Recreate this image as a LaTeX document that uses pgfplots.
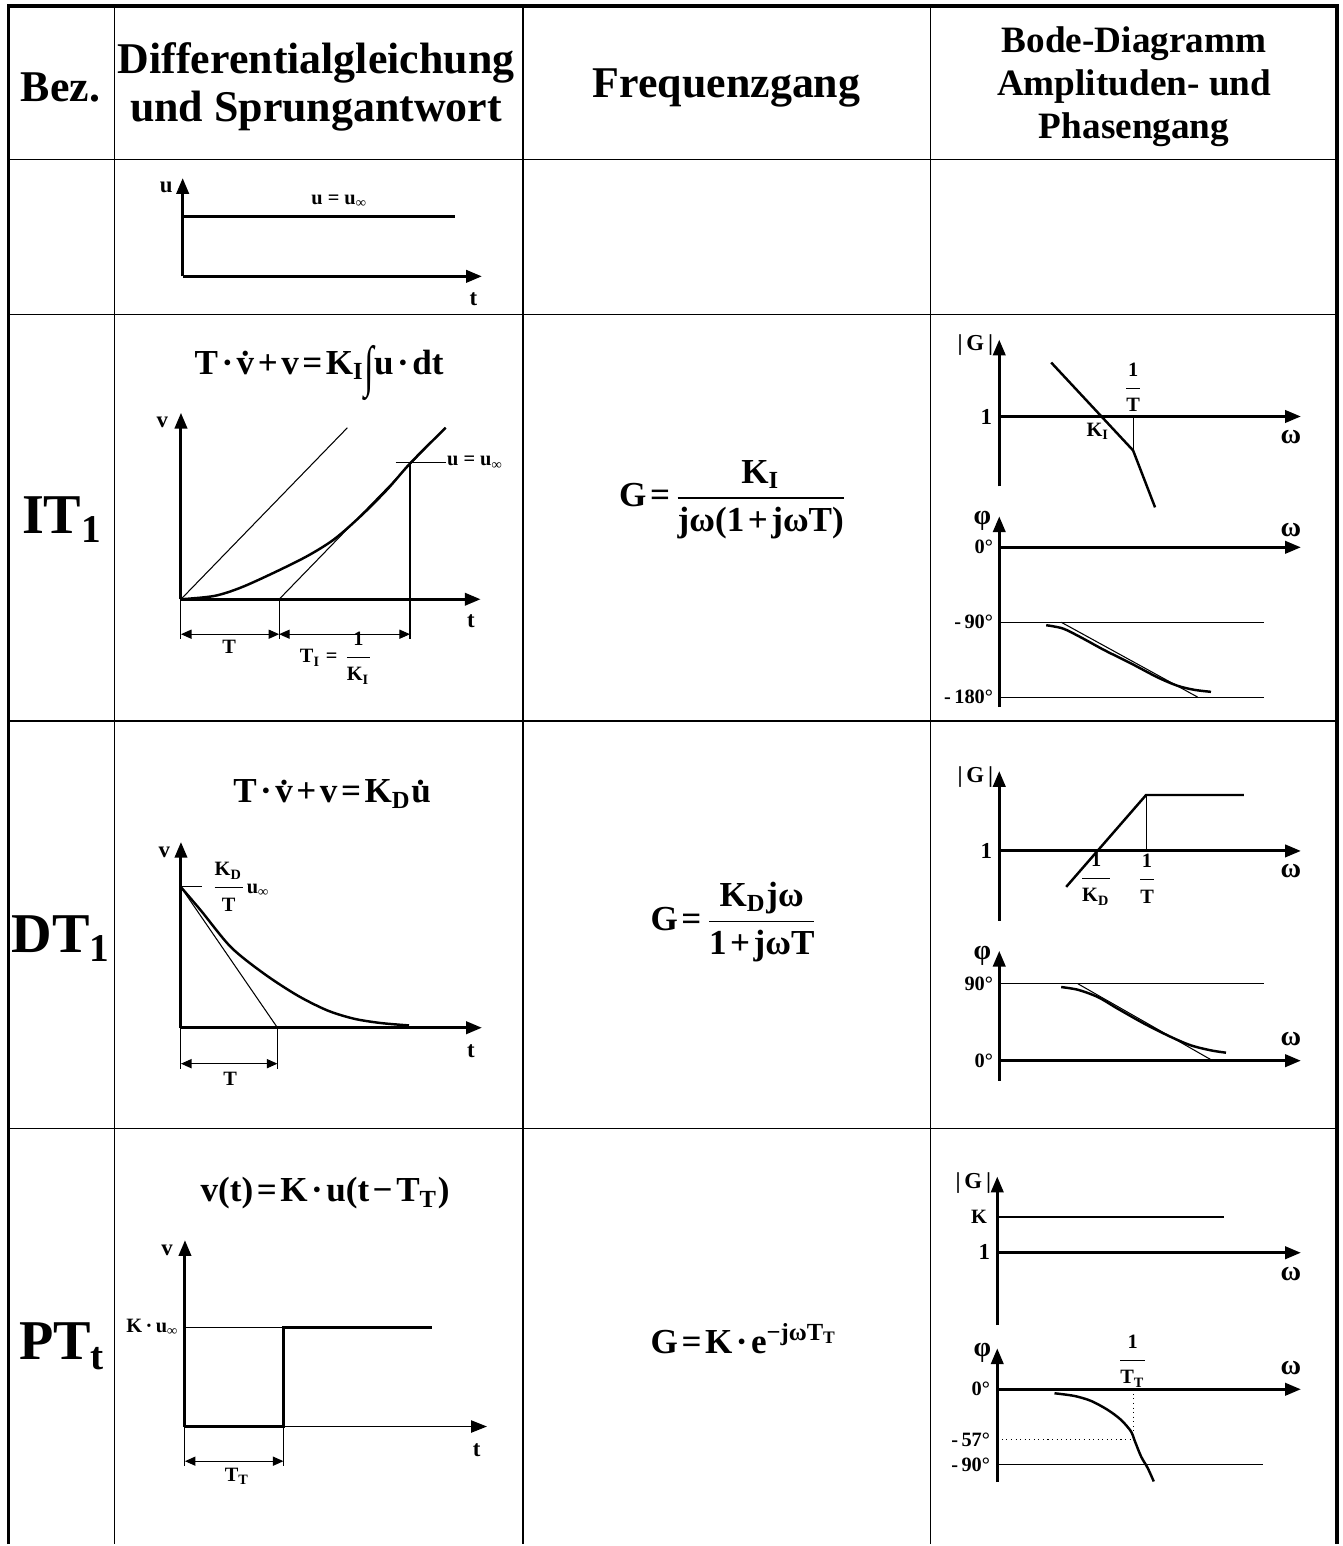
\documentclass[border=0pt]{standalone}
\usepackage{amsmath}
\usepackage{graphicx}
\usepackage{fontspec}
\setmainfont{Liberation Serif}
\usepackage{pgfplots}
\pgfplotsset{compat=1.18}
\usetikzlibrary{arrows.meta}

\newcommand{\sub}[1]{\textsubscript{#1}}
\newcommand{\bfr}[2]{$\dfrac{\text{#1}}{\text{#2}}$}
\newcommand{\op}[1]{\hspace{0.1em}#1\hspace{0.1em}}

\begin{document}
\begin{tikzpicture}
\begin{axis}[
  width=13.42cm, height=15.46cm, scale only axis,
  xmin=0, xmax=1342, ymin=0, ymax=1546, y dir=reverse,
  hide axis, clip=false,
]
\tikzset{
  grid/.style={line width=0.9pt},
  ax/.style={line width=0.85pt, -{Triangle[length=4.5pt,width=3.5pt]}},
  axthin/.style={line width=0.35pt, -{Triangle[length=4.5pt,width=3.5pt]}},
  curve/.style={line width=0.7pt},
  fine/.style={line width=0.3pt},
  dim/.style={line width=0.3pt, {Triangle[length=3pt,width=2.6pt]}-{Triangle[length=3pt,width=2.6pt]}},
  hdr/.style={font=\fontsize{12.5}{13.6}\selectfont\bfseries, align=center},
  hdrb/.style={font=\fontsize{10.6}{12.3}\selectfont\bfseries, align=center},
  row/.style={font=\fontsize{16}{18}\selectfont\bfseries},
  eq/.style={font=\fontsize{10}{12}\selectfont\bfseries, inner sep=0pt},
  lb/.style={font=\fontsize{6.5}{7.5}\selectfont\bfseries, inner sep=1pt},
  gr/.style={font=\fontsize{8}{9}\selectfont\bfseries, inner sep=1pt},
  lbs/.style={font=\fontsize{5.8}{7}\selectfont\bfseries, inner sep=1pt},
}
\path (0,0) rectangle (1342,1546);

% table
\addplot[line width=1.1pt] coordinates {(6,1546) (6,6) (1336,6) (1336,1546)};
\addplot[grid] coordinates {(112,6) (112,1546)};
\addplot[grid] coordinates {(521,6) (521,1546)};
\addplot[grid] coordinates {(929,6) (929,1546)};
\addplot[grid] coordinates {(6,160) (1336,160)};
\addplot[grid] coordinates {(6,315) (1336,315)};
\addplot[grid] coordinates {(6,722) (1336,722)};
\addplot[grid] coordinates {(6,1130) (1336,1130)};

% headers
\node[hdr] at (58,88) {Bez.};
\node[hdr] at (314,87) {Differentialgleichung\\und Sprungantwort};
\node[hdr] at (725,88) {Frequenzgang};
\node[hdrb] at (1133,87) {Bode-Diagramm\\Amplituden- und\\Phasengang};

% row labels
\node[row] at (60,520) {IT\sub{1}};
\node[row] at (59,940) {DT\sub{1}};
\node[row] at (60,1348) {PT\sub{t}};

% ---- row 1: step input
\addplot[ax] coordinates {(180.4,276.7) (480,276.7)};
\addplot[ax] coordinates {(180.4,276.7) (180.4,178.3)};
\addplot[curve] coordinates {(180.4,216.7) (452.9,216.7)};
\node[lb] at (164,188) {u};
\node[lb] at (471.4,300) {t};
\node[lbs] at (337.5,201.7) {u = u\sub{∞}};

% ---- IT1
\node[eq] at (317,373) {T\op{·}\.v\op{+}v\op{=}K\sub{I}\raisebox{-0.3em}{\scalebox{1}[1.6]{∫}}u\op{·}dt};
\addplot[ax] coordinates {(178.7,600) (478.7,600)};
\addplot[ax] coordinates {(178.7,600) (178.7,413.3)};
\addplot[fine] coordinates {(178.7,600) (345.3,428.3)};
\addplot[fine] coordinates {(277,600) (443.7,428.3)};
\addplot[curve, smooth] coordinates {(178.7,600) (212,596.7) (238.7,588.3) (272,573.3) (305.3,556.7) (332,540) (358.7,516.7) (385.3,490) (408.7,463.3) (443.7,428.3)};
\addplot[fine] coordinates {(408,463.3) (408,640)};
\addplot[fine] coordinates {(393.7,463.3) (443.7,463.3)};
\node[lbs, anchor=west] at (441,463.3) {u = u\sub{∞}};
\addplot[fine] coordinates {(178.7,600) (178.7,640)};
\addplot[fine] coordinates {(277,600) (277,640)};
\addplot[dim] coordinates {(178.7,635) (277,635)};
\addplot[dim] coordinates {(277,635) (408,635)};
\node[lbs] at (227,648) {T};
\node[lbs] at (335,659) {T\sub{I} = \bfr{1}{K\sub{I}}};
\node[lb] at (160,423) {v};
\node[lb] at (469,622) {t};

% IT1 Bode
\addplot[ax] coordinates {(998,487) (998,340)};
\addplot[ax] coordinates {(998,417) (1300,417)};
\addplot[curve] coordinates {(1050,363) (1132,451) (1154,508)};
\addplot[fine] coordinates {(1132,417) (1132,451)};
\node[lb, anchor=east] at (996,345) {|\,G\,|};
\node[lb, anchor=east] at (995,417) {1};
\node[gr] at (1290,438) {ω};
\node[lbs] at (1132,388) {\bfr{1}{T}};
\node[lbs] at (1097,432) {K\sub{I}};
\addplot[ax] coordinates {(998,708) (998,517)};
\addplot[ax] coordinates {(998,548) (1300,548)};
\addplot[fine] coordinates {(998,623) (1263,623)};
\addplot[fine] coordinates {(998,698) (1263,698)};
\addplot[fine] coordinates {(1060,623) (1196.7,698)};
\addplot[curve, smooth] coordinates {(1045,626) (1061.7,629.3) (1080,638.3) (1103.3,651) (1130,664.3) (1156.7,678.3) (1176.7,686.7) (1193.3,690.7) (1210,692.7)};
\node[gr] at (981,522) {φ};
\node[gr] at (1290,531) {ω};
\node[lbs, anchor=east] at (996,548) {0°};
\node[lbs, anchor=east] at (996,623) {-\,90°};
\node[lbs, anchor=east] at (996,698) {-\,180°};

% IT1 frequency response
\node[eq] at (732,500) {G\op{=}\bfr{K\sub{I}}{jω(1\op{+}jωT)}};

% ---- DT1
\node[eq] at (330,795) {T\op{·}\.v\op{+}v\op{=}K\sub{D}\.u};
\addplot[ax] coordinates {(178.7,1029) (480,1029)};
\addplot[ax] coordinates {(178.7,1029) (178.7,843)};
\addplot[curve, smooth] coordinates {(178.7,888.3) (198.7,911.7) (228.7,948.3) (262,975) (295.3,996.7) (325.3,1011.7) (352,1020) (378.7,1024.3) (407,1026.7)};
\addplot[fine] coordinates {(178.7,888.3) (275.3,1029)};
\addplot[fine] coordinates {(178.7,888) (200,888)};
\node[lbs, anchor=west] at (204,888) {\bfr{K\sub{D}}{T}u\sub{∞}};
\addplot[fine] coordinates {(178.7,1029) (178.7,1070)};
\addplot[fine] coordinates {(275.3,1029) (275.3,1070)};
\addplot[dim] coordinates {(178.7,1065) (275.3,1065)};
\node[lbs] at (228,1080) {T};
\node[lb] at (162,853) {v};
\node[lb] at (469,1052) {t};

% DT1 Bode
\addplot[ax] coordinates {(998,922) (998,772)};
\addplot[ax] coordinates {(998,852) (1300,852)};
\addplot[curve] coordinates {(1065,888) (1145,796) (1243,796)};
\addplot[fine] coordinates {(1145,796) (1145,852)};
\node[lb, anchor=east] at (996,778) {|\,G\,|};
\node[lb, anchor=east] at (995,852) {1};
\node[gr] at (1290,872) {ω};
\node[lbs] at (1095,880) {\bfr{1}{K\sub{D}}};
\node[lbs] at (1146,880) {\bfr{1}{T}};
\addplot[ax] coordinates {(998,1082) (998,952)};
\addplot[ax] coordinates {(998,1062) (1300,1062)};
\addplot[fine] coordinates {(998,985) (1263,985)};
\addplot[fine] coordinates {(1076.7,985) (1211.7,1062)};
\addplot[curve, smooth] coordinates {(1060,988.3) (1076.7,991) (1096.7,998.3) (1116.7,1010) (1143.3,1025) (1170,1038.3) (1190,1046.7) (1210,1051.7) (1225,1054)};
\node[gr] at (981,957) {φ};
\node[lbs, anchor=east] at (996,985) {90°};
\node[lbs, anchor=east] at (996,1062) {0°};
\node[gr] at (1290,1040) {ω};

% DT1 frequency response
\node[eq] at (733,923) {G\op{=}\bfr{K\sub{D}jω}{1\op{+}jωT}};

% ---- PTt
\node[eq] at (323,1195) {v(t)\op{=}K\op{·}u(t\op{−}T\sub{T})};
\addplot[ax] coordinates {(182.7,1428.3) (182.7,1241.7)};
\addplot[axthin] coordinates {(182.7,1428.3) (485,1428.3)};
\addplot[curve] coordinates {(182.7,1428.3) (281.3,1428.3) (281.3,1329.3) (430.3,1329.3)};
\addplot[fine] coordinates {(182.7,1329.3) (281.3,1329.3)};
\node[lbs, anchor=east] at (181,1329) {K\,·\,u\sub{∞}};
\addplot[fine] coordinates {(182.7,1428) (182.7,1468)};
\addplot[fine] coordinates {(281.3,1428) (281.3,1468)};
\addplot[dim] coordinates {(182.7,1463) (281.3,1463)};
\node[lbs] at (235,1478) {T\sub{T}};
\node[lb] at (164.7,1252) {v};
\node[lb] at (474.7,1452) {t};

% PTt Bode
\addplot[ax] coordinates {(996,1326.7) (996,1178)};
\addplot[ax] coordinates {(996,1254.3) (1300,1254.3)};
\addplot[curve] coordinates {(996,1218.3) (1223.3,1218.3)};
\node[lb, anchor=east] at (994,1185) {|\,G\,|};
\node[lbs, anchor=east] at (990,1218) {K};
\node[lb, anchor=east] at (993,1254) {1};
\node[gr] at (1290,1276) {ω};
\addplot[ax] coordinates {(996,1484) (996,1350)};
\addplot[ax] coordinates {(996,1391) (1300,1391)};
\addplot[fine, densely dotted] coordinates {(1132,1391) (1132,1442)};
\addplot[fine, densely dotted] coordinates {(996,1441.7) (1132,1441.7)};
\addplot[fine] coordinates {(996,1466.7) (1261.7,1466.7)};
\addplot[curve, smooth] coordinates {(1053.3,1395) (1073.3,1397.7) (1090,1402.7) (1106.7,1411.7) (1120,1421.7) (1130,1433.3) (1133.3,1441.7) (1140,1458.3) (1146.7,1470) (1152.7,1483.3)};
\node[gr] at (981,1355) {φ};
\node[lbs, anchor=east] at (993,1391) {0°};
\node[gr] at (1290,1370) {ω};
\node[lbs] at (1131.7,1363) {\bfr{1}{T\sub{T}}};
\node[lbs, anchor=east] at (993,1442) {-\,57°};
\node[lbs, anchor=east] at (993,1467) {-\,90°};

% PTt frequency response
\node[eq] at (743,1340) {G\op{=}K\op{·}e\textsuperscript{−jωT\sub{T}}};
\end{axis}
\end{tikzpicture}
\end{document}
